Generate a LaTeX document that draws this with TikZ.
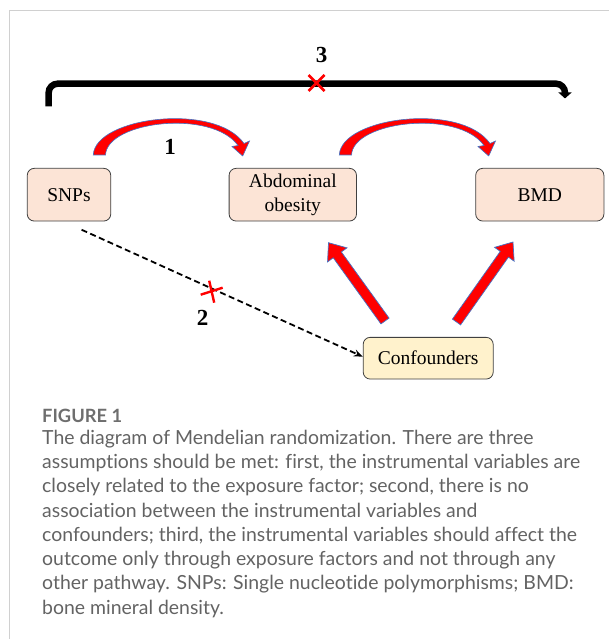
\documentclass[tikz,border=0pt]{standalone}
\usepackage{fontspec}
\setmainfont{Liberation Serif}
\newfontfamily\capfont[Ligatures=NoCommon]{Lato}
\usetikzlibrary{arrows.meta,calc}
\definecolor{pinkfill}{HTML}{FCE4D6}
\definecolor{yelfill}{HTML}{FFF2CC}
\definecolor{boxline}{HTML}{404040}
\definecolor{arblue}{HTML}{4472C4}
\definecolor{capgray}{HTML}{636363}
\definecolor{figgray}{HTML}{6E6E6E}
\definecolor{framegray}{HTML}{D0D0D0}
\newlength\capw
\newlength\figw
\newcommand\fatarrow[2]{%
  \coordinate (fa-h) at ($(#2)!15pt!(#1)$);
  \filldraw[fill=red, draw=arblue, line width=0.7pt, line join=miter]
    ($(#1)!5pt!90:(#2)$) -- ($(fa-h)!5pt!-90:(#1)$) -- ($(fa-h)!12pt!-90:(#1)$) -- (#2)
    -- ($(fa-h)!12pt!90:(#1)$) -- ($(fa-h)!5pt!90:(#1)$) -- ($(#1)!5pt!-90:(#2)$) -- cycle;}
\tikzset{
  box/.style={draw=boxline, line width=0.8pt, rounded corners=7pt, fill=pinkfill,
    font=\fontsize{19.5}{24}\selectfont, align=center, inner sep=0pt,
    minimum height=52.7pt},
  num/.style={font=\fontsize{23}{26}\selectfont\bfseries, inner sep=0pt},
  redx/.style={draw=red, line width=2.6pt},
  capline/.style={anchor=base west, inner sep=0pt, text=capgray},
  curvedarrow/.style={fill=red, draw=arblue, line width=0.6pt}
}
\begin{document}
\settowidth\capw{\capfont\fontsize{10}{12}\selectfont assumptions should be met: first, the instrumental variables are}%
\settowidth\figw{\capfont\bfseries\fontsize{10}{12}\selectfont FIGURE 1}%
\pgfmathsetmacro\capsize{5380/\capw}%
\pgfmathsetmacro\figsize{800/\figw}%
\begin{tikzpicture}[x=1pt,y=-1pt]
\useasboundingbox (0,0) rectangle (609,639);
% frame
\draw[framegray, line width=1.5pt] (9.7,639) -- (9.7,10.5) -- (609,10.5);
% nodes
\node[box, minimum width=83.5pt] (snps) at (69,194.7) {SNPs};
\node[box, minimum width=127.4pt] (abd) at (292.8,194.7) {Abdominal\\obesity};
\node[box, minimum width=128.2pt] (bmd) at (539.8,194.7) {BMD};
\node[box, fill=yelfill, minimum width=130pt, minimum height=41.7pt] (conf) at (428.2,358.2) {Confounders};
% bracket 3
\coordinate (b1) at ($(snps.north west)+(21.8,-61.5)$);
\coordinate (b2) at ($(bmd.north)+(25.2,-69.5)$);
\draw[line width=6.5pt, rounded corners=9pt, -{Triangle[length=6pt,width=13pt]}]
  (b1) -- (b1 |- 0,83.7) -- (b2 |- 0,83.7) -- (b2);
\node[num] (n3) at (321.5,55) {3};
\coordinate (x3) at (316.5,83);
\draw[redx] ($(x3)+(-8,-8)$) -- ($(x3)+(8,8)$) ($(x3)+(-8,8)$) -- ($(x3)+(8,-8)$);
% curved arrows 1
\foreach \s in {0,246}{
\begin{scope}[xshift=\s pt]
\filldraw[curvedarrow]
  (93.3,155) .. controls (95,117) and (215,102) .. (244,143.5)
  -- (249.5,141) -- (242.7,156) -- (232,146.5) -- (238,145.5)
  .. controls (212,109) and (107,121) .. (105.5,155) -- cycle;
\end{scope}}
\node[num] (n1) at (170,146.7) {1};
% dashed arrow 2
\coordinate (d1) at ($(snps.south)+(12.6,8.3)$);
\draw[dashed, dash pattern=on 6pt off 3.5pt, line width=1.8pt, -{Stealth[length=9pt,width=7pt]}]
  (d1) -- (conf.west |- 0,356.7);
\coordinate (x2) at (211.7,291.7);
\draw[redx, line width=2.4pt] ($(x2)+(-11,3)$) -- ($(x2)+(11,-4)$) ($(x2)+(-2.5,-11)$) -- ($(x2)+(2.5,11)$);
\node[num] (n2) at (202.7,318.3) {2};
% red fat arrows
\coordinate (t1) at (385,321);
\coordinate (h1) at (328.5,242.7);
\coordinate (t2) at (456.5,322);
\coordinate (h2) at (513,242);
\fatarrow{t1}{h1}
\fatarrow{t2}{h2}
% caption
\node[capline, text=figgray, font=\capfont\bfseries\fontsize{\figsize}{24}\selectfont] (fig) at (42,422.7) {FIGURE 1};
\begin{scope}[every node/.append style={capline, font=\capfont\fontsize{\capsize}{24}\selectfont}]
\node (c1) at (42,444.5) {The diagram of Mendelian randomization. There are three};
\node (c2) at (42,468.7) {assumptions should be met: first, the instrumental variables are};
\node (c3) at (42,492.9) {closely related to the exposure factor; second, there is no};
\node (c4) at (42,517.1) {association between the instrumental variables and};
\node (c5) at (42,541.3) {confounders; third, the instrumental variables should affect the};
\node (c6) at (42,565.5) {outcome only through exposure factors and not through any};
\node (c7) at (42,589.7) {other pathway. SNPs: Single nucleotide polymorphisms; BMD:};
\node (c8) at (42,614) {bone mineral density.};
\end{scope}
\end{tikzpicture}
\end{document}
